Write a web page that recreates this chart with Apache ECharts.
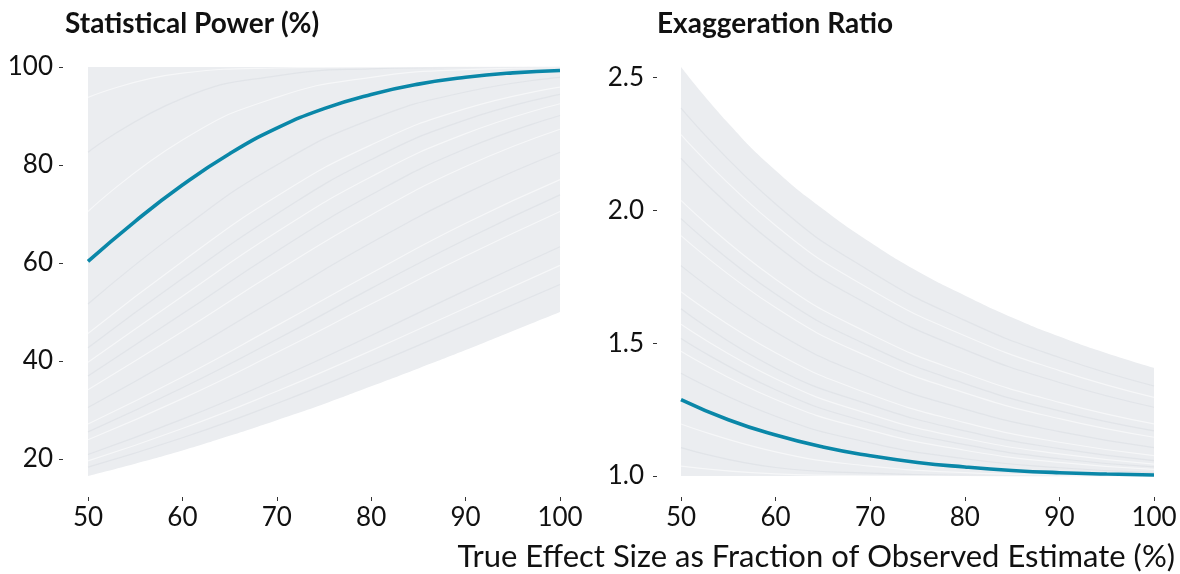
<!DOCTYPE html>
<html>
<head>
<meta charset="utf-8">
<script src="https://cdn.jsdelivr.net/npm/echarts@6/dist/echarts.min.js"></script>
<style>
  html, body { margin: 0; padding: 0; background: #fff; }
  #chart { width: 1180px; height: 574px; }
</style>
</head>
<body>
<div id="chart"></div>
<script>
// true effect size as % of the observed estimate
const effectSizes = [50, 60, 70, 80, 90, 100];
const effectSizesFine = [50, 55, 60, 65, 70, 75, 80, 85, 90, 95, 100];
const powerTicks = [20, 40, 60, 80, 100];
const ratioTicks = [1.0, 1.5, 2.0, 2.5];

// edges of the grey fan (on effectSizesFine)
const powerLowest = [16.5, 19.0, 21.7, 24.7, 27.9, 31.2, 34.8, 38.45, 42.2, 46.1, 50.0];
const powerHighest = [100, 100, 100, 100, 100, 100, 100, 100, 100, 100, 100];
const ratioHighest = [2.54, 2.328, 2.15, 2.005, 1.88, 1.771, 1.68, 1.597, 1.525, 1.462, 1.407];

// highlighted study (on effectSizesFine)
const powerStudy = [60.3, 68.5, 75.9, 82.3, 87.5, 91.5, 94.4, 96.5, 97.9, 98.8, 99.3];
const ratioStudy = [1.288, 1.212, 1.154, 1.109, 1.076, 1.051, 1.034, 1.021, 1.0125, 1.0075, 1.004];

// grey curves inside the fan (on effectSizes)
const powerCurves = [
    [18.3, 24.3, 31.3, 39.1, 47.3, 55.6],
    [19.6, 26.2, 33.8, 42.1, 50.8, 59.5],
    [20.9, 28.1, 36.3, 45.2, 54.4, 63.3],
    [23.9, 32.3, 41.7, 51.6, 61.4, 70.5],
    [25.5, 34.5, 44.4, 54.8, 64.8, 73.9],
    [27.1, 36.7, 47.2, 57.9, 68.1, 77.0],
    [30.5, 41.3, 52.8, 64.1, 74.2, 82.6],
    [34.1, 46.0, 58.3, 69.8, 79.7, 87.3],
    [36.9, 49.6, 62.4, 73.9, 83.3, 90.1],
    [39.7, 53.2, 66.3, 77.6, 86.4, 92.5],
    [42.7, 56.8, 70.0, 81.1, 89.2, 94.4],
    [45.6, 60.3, 73.6, 84.1, 91.5, 95.9],
    [51.6, 67.0, 80.0, 89.3, 94.9, 97.9],
    [70.5, 85.1, 93.8, 97.9, 99.45, 99.88],
    [82.6, 93.6, 98.2, 99.63, 99.94, 99.99],
    [93.8, 98.75, 99.8, 99.98, 100, 100]
];
const ratioCurves = [
    [2.385, 2.024, 1.771, 1.586, 1.446, 1.339],
    [2.285, 1.943, 1.703, 1.528, 1.397, 1.296],
    [2.196, 1.870, 1.642, 1.476, 1.352, 1.259],
    [2.038, 1.741, 1.535, 1.387, 1.277, 1.196],
    [1.969, 1.685, 1.488, 1.348, 1.245, 1.170],
    [1.905, 1.634, 1.446, 1.313, 1.216, 1.146],
    [1.792, 1.542, 1.371, 1.252, 1.167, 1.107],
    [1.694, 1.464, 1.308, 1.201, 1.127, 1.077],
    [1.630, 1.406, 1.268, 1.170, 1.103, 1.058],
    [1.571, 1.366, 1.232, 1.142, 1.083, 1.045],
    [1.518, 1.325, 1.200, 1.118, 1.065, 1.034],
    [1.470, 1.288, 1.172, 1.097, 1.051, 1.025],
    [1.387, 1.225, 1.125, 1.065, 1.031, 1.0125],
    [1.196, 1.091, 1.037, 1.0125, 1.0036, 1.0008],
    [1.107, 1.032, 1.011, 1.002, 1.000, 1.000],
    [1.037, 1.008, 1.001, 1.000, 1.000, 1.000]
];

const FONT = 'Lato';
const fanColor = '#ebedf0';
const blue = '#0a87a8';

function pts(xs, vals) {
    return xs.map((x, i) => [x, vals[i]]);
}

function xAxisFor(idx) {
    return {
        type: 'value', gridIndex: idx, min: 50, max: 100, interval: 10,
        offset: 21,
        axisLine: { show: false },
        axisTick: { show: true, length: 4, lineStyle: { color: '#333', width: 1 } },
        axisLabel: { fontFamily: FONT, fontSize: 26, color: '#111', margin: 8 },
        splitLine: { show: false }
    };
}

function yAxisFor(idx, min, max, ticks, fmt) {
    return {
        type: 'value', gridIndex: idx, min: min, max: max,
        offset: idx === 0 ? 25 : 24,
        axisLine: { show: false },
        axisTick: { show: true, length: 4, customValues: ticks, lineStyle: { color: '#333', width: 1 } },
        axisLabel: { fontFamily: FONT, fontSize: 26, color: '#111', margin: idx === 0 ? 10 : 13,
                     customValues: ticks, formatter: fmt },
        splitLine: { show: false }
    };
}

function greyLine(xi, c, i) {
    return {
        type: 'line', xAxisIndex: xi, yAxisIndex: xi, silent: true, symbol: 'none',
        smooth: true, data: pts(effectSizes, c), z: 3,
        lineStyle: { width: 1.2, color: i % 2 ? '#ffffff' : '#d8dce1', opacity: 0.55 }
    };
}

const series = [];

// left panel: fan
series.push({
    type: 'line', xAxisIndex: 0, yAxisIndex: 0, silent: true, symbol: 'none',
    data: pts(effectSizesFine, powerHighest), lineStyle: { width: 0 },
    areaStyle: { color: fanColor, opacity: 1, origin: 'start' }, z: 1
});
series.push({
    type: 'line', xAxisIndex: 0, yAxisIndex: 0, silent: true, symbol: 'none', smooth: true,
    data: pts(effectSizesFine, powerLowest), lineStyle: { width: 0 },
    areaStyle: { color: '#ffffff', opacity: 1, origin: 'start' }, z: 2
});
powerCurves.forEach((c, i) => series.push(greyLine(0, c, i)));
series.push({
    type: 'line', xAxisIndex: 0, yAxisIndex: 0, silent: true, symbol: 'none',
    smooth: true, data: pts(effectSizesFine, powerStudy), z: 5,
    lineStyle: { width: 3.6, color: blue }
});

// right panel: fan
series.push({
    type: 'line', xAxisIndex: 1, yAxisIndex: 1, silent: true, symbol: 'none', smooth: true,
    data: pts(effectSizesFine, ratioHighest), lineStyle: { width: 0 },
    areaStyle: { color: fanColor, opacity: 1, origin: 'start' }, z: 1
});
ratioCurves.forEach((c, i) => series.push(greyLine(1, c, i)));
series.push({
    type: 'line', xAxisIndex: 1, yAxisIndex: 1, silent: true, symbol: 'none',
    smooth: true, data: pts(effectSizesFine, ratioStudy), z: 5,
    lineStyle: { width: 3.6, color: blue }
});

const chart = echarts.init(document.getElementById('chart'));
chart.setOption({
    animation: false,
    backgroundColor: '#fff',
    title: [
        { text: 'Statistical Power (%)', left: 60, top: 5,
          textStyle: { fontFamily: FONT, fontWeight: 'bold', fontSize: 28, color: '#111' } },
        { text: 'Exaggeration Ratio', left: 652, top: 5,
          textStyle: { fontFamily: FONT, fontWeight: 'bold', fontSize: 28, color: '#111' } },
        { text: 'True Effect Size as Fraction of Observed Estimate (%)', right: 0, top: 536,
          textStyle: { fontFamily: FONT, fontWeight: 'normal', fontSize: 31, color: '#111' } }
    ],
    grid: [
        { left: 88, top: 67, width: 472, height: 409 },
        { left: 681, top: 67, width: 473, height: 409 }
    ],
    xAxis: [xAxisFor(0), xAxisFor(1)],
    yAxis: [
        yAxisFor(0, 16.5, 100, powerTicks, v => String(v)),
        yAxisFor(1, 1.0, 2.54, ratioTicks, v => v.toFixed(1))
    ],
    series: series
});
</script>
</body>
</html>
